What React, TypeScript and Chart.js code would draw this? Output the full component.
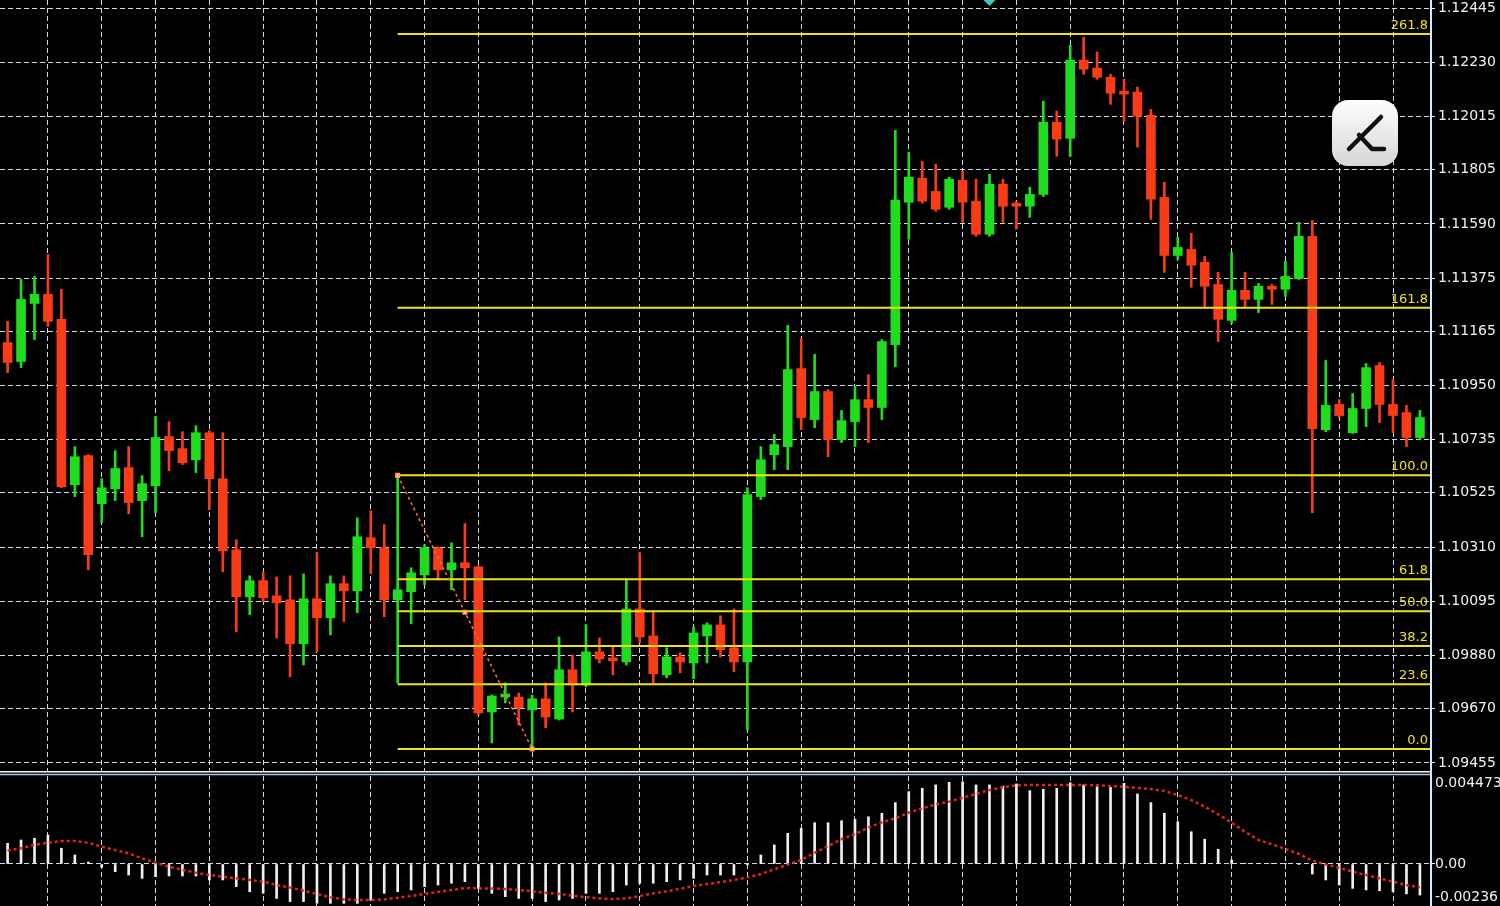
import React, { useEffect, useRef } from "react";
import { Chart, registerables } from "chart.js";

Chart.register(...registerables);

// ---------- DATA ----------
const opens = [
  1.11120, 1.11045, 1.11275, 1.11311, 1.11212, 1.10557, 1.10672, 1.10482, 1.10541, 1.10625,
  1.10494, 1.10553, 1.10748, 1.10700, 1.10656, 1.10763, 1.10581, 1.10299, 1.10113, 1.10177,
  1.10117, 1.10101, 1.09927, 1.10105, 1.10030, 1.10165, 1.10137, 1.10347, 1.10307, 1.10101,
  1.10133, 1.10200, 1.10307, 1.10220, 1.10248, 1.10232, 1.09657, 1.09716, 1.09716, 1.09665,
  1.09709, 1.09629, 1.09824, 1.09764, 1.09895, 1.09871, 1.09855, 1.10065, 1.09958, 1.09804,
  1.09875, 1.09851, 1.09958, 1.10002, 1.09911, 1.09855, 1.10510, 1.10676, 1.10708, 1.11017,
  1.10815, 1.10926, 1.10736, 1.10807, 1.10894, 1.10863, 1.11112, 1.11676, 1.11771, 1.11719,
  1.11656, 1.11763, 1.11680, 1.11549, 1.11747, 1.11672, 1.11660, 1.11707, 1.11993, 1.11929,
  1.12239, 1.12207, 1.12171, 1.12116, 1.12112, 1.12021, 1.11695, 1.11465, 1.11489, 1.11438,
  1.11350, 1.11208, 1.11327, 1.11291, 1.11343, 1.11331, 1.11374, 1.11541, 1.10775, 1.10875,
  1.10763, 1.10859, 1.11029, 1.10875, 1.10843, 1.10744,
];
const highs = [
  1.11204, 1.11370, 1.11382, 1.11469, 1.11331, 1.10708, 1.10676, 1.10581, 1.10692, 1.10708,
  1.10593, 1.10827, 1.10807, 1.10767, 1.10791, 1.10771, 1.10763, 1.10339, 1.10196, 1.10212,
  1.10192, 1.10196, 1.10204, 1.10288, 1.10196, 1.10196, 1.10426, 1.10454, 1.10399, 1.10594,
  1.10228, 1.10319, 1.10311, 1.10327, 1.10403, 1.10236, 1.09724, 1.09772, 1.09732, 1.09724,
  1.09772, 1.09954, 1.09883, 1.10002, 1.09950, 1.09919, 1.10184, 1.10288, 1.10054, 1.09911,
  1.09891, 1.09994, 1.10010, 1.10038, 1.10065, 1.10545, 1.10708, 1.10756, 1.11188, 1.11136,
  1.11073, 1.10934, 1.10851, 1.10946, 1.10993, 1.11132, 1.11961, 1.11874, 1.11838, 1.11826,
  1.11775, 1.11799, 1.11767, 1.11787, 1.11767, 1.11680, 1.11735, 1.12076, 1.12037, 1.12298,
  1.12330, 1.12271, 1.12183, 1.12163, 1.12132, 1.12044, 1.11755, 1.11537, 1.11553, 1.11461,
  1.11398, 1.11477, 1.11398, 1.11354, 1.11350, 1.11442, 1.11596, 1.11604, 1.11049, 1.10894,
  1.10918, 1.11037, 1.11041, 1.10974, 1.10871, 1.10851,
];
const lows = [
  1.11001, 1.11021, 1.11132, 1.11184, 1.10545, 1.10510, 1.10220, 1.10407, 1.10494, 1.10442,
  1.10351, 1.10446, 1.10613, 1.10637, 1.10605, 1.10458, 1.10212, 1.09974, 1.10042, 1.10093,
  1.09950, 1.09796, 1.09843, 1.09895, 1.09962, 1.10014, 1.10050, 1.10204, 1.10034, 1.09772,
  1.10006, 1.10161, 1.10180, 1.10141, 1.10101, 1.09645, 1.09534, 1.09693, 1.09605, 1.09510,
  1.09594, 1.09625, 1.09657, 1.09756, 1.09851, 1.09804, 1.09843, 1.09931, 1.09772, 1.09792,
  1.09812, 1.09788, 1.09851, 1.09875, 1.09816, 1.09586, 1.10498, 1.10617, 1.10617, 1.10775,
  1.10783, 1.10668, 1.10724, 1.10708, 1.10724, 1.10815, 1.11025, 1.11529, 1.11672, 1.11640,
  1.11648, 1.11596, 1.11541, 1.11541, 1.11596, 1.11569, 1.11616, 1.11699, 1.11858, 1.11858,
  1.12183, 1.12163, 1.12064, 1.11997, 1.11894, 1.11608, 1.11398, 1.11450, 1.11339, 1.11263,
  1.11124, 1.11196, 1.11263, 1.11239, 1.11271, 1.11303, 1.11370, 1.10446, 1.10767, 1.10823,
  1.10760, 1.10787, 1.10803, 1.10763, 1.10708, 1.10736,
];
const closes = [
  1.11041, 1.11291, 1.11311, 1.11204, 1.10549, 1.10668, 1.10280, 1.10545, 1.10621, 1.10486,
  1.10561, 1.10744, 1.10692, 1.10644, 1.10763, 1.10581, 1.10295, 1.10113, 1.10177, 1.10109,
  1.10089, 1.09927, 1.10105, 1.10030, 1.10165, 1.10137, 1.10351, 1.10307, 1.10101, 1.10141,
  1.10208, 1.10307, 1.10220, 1.10248, 1.10228, 1.09653, 1.09720, 1.09728, 1.09673, 1.09709,
  1.09637, 1.09824, 1.09764, 1.09895, 1.09867, 1.09859, 1.10065, 1.09954, 1.09808, 1.09875,
  1.09855, 1.09970, 1.10002, 1.09903, 1.09855, 1.10518, 1.10656, 1.10716, 1.11013, 1.10823,
  1.10926, 1.10736, 1.10811, 1.10894, 1.10863, 1.11124, 1.11684, 1.11775, 1.11680, 1.11648,
  1.11767, 1.11676, 1.11549, 1.11747, 1.11660, 1.11660, 1.11707, 1.11993, 1.11926, 1.12239,
  1.12203, 1.12171, 1.12108, 1.12104, 1.12017, 1.11688, 1.11465, 1.11497, 1.11426, 1.11343,
  1.11212, 1.11327, 1.11291, 1.11343, 1.11331, 1.11382, 1.11541, 1.10779, 1.10871, 1.10831,
  1.10859, 1.11021, 1.10875, 1.10831, 1.10744, 1.10823,
];

const priceTickLabels = [
  "1.12445", "1.12230", "1.12015", "1.11805", "1.11590", "1.11375", "1.11165", "1.10950",
  "1.10735", "1.10525", "1.10310", "1.10095", "1.09880", "1.09670", "1.09455",
];

const fibLabels = ["0.0", "23.6", "38.2", "50.0", "61.8", "100.0", "161.8", "261.8"];
const fibPrices = [1.0951, 1.09767, 1.09918, 1.10056, 1.10183, 1.10594, 1.11258, 1.12342];
const fibStartIndex = 29;

const trendIndex = [29, 34, 39];
const trendPrices = [1.10594, 1.10052, 1.0951];

const gridCandles = [3, 7, 11, 15, 19, 23, 27, 31, 35, 39, 43, 47, 51, 55, 59, 63, 67, 71, 75, 79, 83, 87, 91, 95, 99, 103];

const markerIndex = 73;

const macdHist = [
  0.00105, 0.00122, 0.00131, 0.00147, 0.0008, 0.00046, 0.0001, -0.00017, -0.00039, -0.00056,
  -0.00073, -0.00064, -0.00061, -0.00061, -0.00061, -0.00081, -0.00081, -0.00115, -0.00141, -0.00149,
  -0.00175, -0.00191, -0.00191, -0.002, -0.002, -0.002, -0.002, -0.00183, -0.00149, -0.00141,
  -0.00132, -0.00115, -0.00107, -0.00098, -0.0009, -0.00124, -0.00149, -0.00166, -0.00175, -0.00175,
  -0.00191, -0.00183, -0.00175, -0.00149, -0.00149, -0.00141, -0.00107, -0.00098, -0.00098, -0.0009,
  -0.00081, -0.00073, -0.00056, -0.00056, -0.00056, -0.00005, 0.00046, 0.00097, 0.00156, 0.00181,
  0.0021, 0.0021, 0.0022, 0.00227, 0.0024, 0.00258, 0.00312, 0.00368, 0.00385, 0.00402,
  0.00415, 0.00418, 0.00402, 0.00402, 0.00396, 0.00407, 0.00373, 0.0038, 0.00385, 0.00413,
  0.00402, 0.00393, 0.0039, 0.0041, 0.00356, 0.00312, 0.00258, 0.00215, 0.00164, 0.00126,
  0.00075, 0.0002, 0.00004, 0.00003, 0.00002, 0.00001, -0.00002, -0.00051, -0.00081, -0.00107,
  -0.00124, -0.00132, -0.00136, -0.00141, -0.00152, -0.00158,
];
const macdSignal = [
  0.00068, 0.0008, 0.00097, 0.00108, 0.00117, 0.00117, 0.00108, 0.00088, 0.00071, 0.00054,
  0.00029, 0.00007, -0.00014, -0.0003, -0.00044, -0.00056, -0.00064, -0.00073, -0.00081, -0.0009,
  -0.00107, -0.00119, -0.00136, -0.00152, -0.00169, -0.0018, -0.00183, -0.00183, -0.0018, -0.00171,
  -0.00163, -0.00152, -0.00142, -0.00132, -0.00122, -0.00124, -0.00124, -0.00127, -0.00132, -0.00139,
  -0.00146, -0.00152, -0.00161, -0.00169, -0.00175, -0.00178, -0.00175, -0.00163, -0.00149, -0.00139,
  -0.00126, -0.00112, -0.00102, -0.00092, -0.00081, -0.00068, -0.00051, -0.00027, -0.00003, 0.0002,
  0.00057, 0.00091, 0.00126, 0.00152, 0.00185, 0.00212, 0.00232, 0.00261, 0.00283, 0.00303,
  0.00317, 0.00337, 0.00356, 0.00376, 0.0039, 0.004, 0.00402, 0.00402, 0.00402, 0.00402,
  0.00402, 0.004, 0.00396, 0.00393, 0.00386, 0.00381, 0.00371, 0.00351, 0.00325, 0.00291,
  0.00253, 0.0021, 0.00164, 0.00122, 0.001, 0.00076, 0.00051, 0.00017, -0.00002, -0.00019,
  -0.00039, -0.00056, -0.00073, -0.0009, -0.00107, -0.00119,
];
const macdTickValues = [0.004473, 0, -0.00236];
const macdTickLabels = ["0.004473", "0.00", "-0.00236"];

// ---------- STYLE ----------
const X_MIN = -0.565;
const X_MAX = 105.75;
const PRICE_MIN = 1.09423;
const PRICE_MAX = 1.12477;
const MACD_MIN = -0.002135;
const MACD_MAX = 0.004473;
const UP = "#1fdc1f";
const DOWN = "#f83c18";
const GRID = "rgba(212,232,248,0.95)";
const YELLOW = "#f0e31c";
const AXIS_TEXT = "#eef2f8";
const AXIS_LINE = "#d4eaff";
const FONT = "DejaVu Sans";
const DASH = [5, 3];

function xScaleOptions() {
  return {
    type: "linear",
    min: X_MIN,
    max: X_MAX,
    offset: false,
    display: true,
    afterBuildTicks: (s: any) => {
      s.ticks = gridCandles.map((v) => ({ value: v }));
    },
    afterFit: (s: any) => {
      s.height = 0;
      s.paddingLeft = 0;
      s.paddingRight = 0;
    },
    ticks: { display: false },
    grid: { color: GRID, lineWidth: 1, drawTicks: false, offset: false },
    border: { display: false, dash: DASH },
  };
}

export default function App() {
  const mainRef = useRef<HTMLCanvasElement>(null);
  const subRef = useRef<HTMLCanvasElement>(null);

  useEffect(() => {
    document.body.style.margin = "0";
    document.body.style.background = "#000";
    Chart.defaults.font.family = FONT;

    const idx = opens.map((_, i) => i);
    const colors = idx.map((i) => (closes[i] >= opens[i] ? UP : DOWN));

    const bgPlugin = {
      id: "bg",
      beforeDraw(chart: any) {
        const { ctx, width, height } = chart;
        ctx.save();
        ctx.fillStyle = "#000";
        ctx.fillRect(0, 0, width, height);
        ctx.restore();
      },
    };

    const mainDecor = {
      id: "mainDecor",
      afterDatasetsDraw(chart: any) {
        const { ctx, chartArea } = chart;
        const ys = chart.scales.y;
        const xs = chart.scales.x;
        ctx.save();
        ctx.font = `13px ${FONT}`;
        ctx.fillStyle = YELLOW;
        ctx.textAlign = "right";
        ctx.textBaseline = "bottom";
        fibPrices.forEach((p, k) => {
          const y = ys.getPixelForValue(p);
          ctx.fillText(fibLabels[k], chartArea.right - 2, y - 2);
        });
        // small cyan marker at top edge
        const mx = xs.getPixelForValue(markerIndex);
        ctx.fillStyle = "#3fc6c8";
        ctx.beginPath();
        ctx.moveTo(mx - 6, 0);
        ctx.lineTo(mx + 6, 0);
        ctx.lineTo(mx, 6);
        ctx.closePath();
        ctx.fill();
        ctx.restore();
      },
      afterDraw(chart: any) {
        const { ctx, chartArea, height } = chart;
        ctx.save();
        // right axis line
        ctx.strokeStyle = AXIS_LINE;
        ctx.lineWidth = 2;
        ctx.beginPath();
        ctx.moveTo(chartArea.right + 1, 0);
        ctx.lineTo(chartArea.right + 1, height);
        ctx.stroke();
        // watermark logo
        const lx = chartArea.right - 98;
        const ly = 100;
        const s = 66;
        const r = 16;
        const g = ctx.createLinearGradient(lx, ly, lx, ly + s);
        g.addColorStop(0, "#ffffff");
        g.addColorStop(1, "#d6d6d6");
        ctx.fillStyle = g;
        ctx.beginPath();
        ctx.moveTo(lx + r, ly);
        ctx.arcTo(lx + s, ly, lx + s, ly + s, r);
        ctx.arcTo(lx + s, ly + s, lx, ly + s, r);
        ctx.arcTo(lx, ly + s, lx, ly, r);
        ctx.arcTo(lx, ly, lx + s, ly, r);
        ctx.closePath();
        ctx.fill();
        ctx.strokeStyle = "#111";
        ctx.lineWidth = 4.5;
        ctx.lineCap = "round";
        ctx.lineJoin = "round";
        ctx.beginPath();
        ctx.moveTo(lx + 17, ly + 49);
        ctx.lineTo(lx + 49, ly + 17);
        ctx.stroke();
        ctx.beginPath();
        ctx.moveTo(lx + 27, ly + 35);
        ctx.lineTo(lx + 40, ly + 49);
        ctx.lineTo(lx + 52, ly + 49);
        ctx.stroke();
        ctx.restore();
      },
    };

    const main = new Chart(mainRef.current as HTMLCanvasElement, {
      type: "bar",
      data: {
        datasets: [
          {
            type: "line",
            label: "trend",
            data: trendIndex.map((x, k) => ({ x, y: trendPrices[k] })),
            borderColor: "#ff7038",
            borderWidth: 1.5,
            borderDash: [3, 3],
            pointRadius: 2.5,
            pointStyle: "rect",
            pointBackgroundColor: "#ffc99a",
            pointBorderColor: "#ff9a60",
            order: 0,
          } as any,
          ...fibPrices.map((p) => ({
            type: "line",
            label: "fib",
            data: [
              { x: fibStartIndex, y: p },
              { x: X_MAX, y: p },
            ],
            borderColor: YELLOW,
            borderWidth: 2,
            pointRadius: 0,
            order: 1,
          })) as any,
          {
            type: "bar",
            label: "body",
            data: idx.map((i) => ({ x: i, y: [opens[i], closes[i]] })),
            backgroundColor: colors,
            barThickness: 9,
            grouped: false,
            minBarLength: 1,
            borderWidth: 0,
            order: 5,
          } as any,
          {
            type: "bar",
            label: "wick",
            data: idx.map((i) => ({ x: i, y: [lows[i], highs[i]] })),
            backgroundColor: colors,
            barThickness: 2,
            grouped: false,
            borderWidth: 0,
            order: 6,
          } as any,
        ],
      },
      options: {
        responsive: false,
        animation: false,
        events: [],
        layout: { padding: 0, autoPadding: false },
        plugins: { legend: { display: false }, tooltip: { enabled: false } },
        scales: {
          x: xScaleOptions() as any,
          y: {
            type: "linear",
            position: "right",
            min: PRICE_MIN,
            max: PRICE_MAX,
            afterBuildTicks: (s: any) => {
              s.ticks = priceTickLabels.map((t) => ({ value: parseFloat(t) }));
            },
            afterFit: (s: any) => {
              s.width = 70;
              s.paddingTop = 0;
              s.paddingBottom = 0;
            },
            ticks: {
              autoSkip: false,
              color: AXIS_TEXT,
              padding: 3,
              font: { size: 14, family: FONT },
              callback: (v: any) => Number(v).toFixed(5),
            },
            grid: {
              color: GRID,
              lineWidth: 1,
              drawTicks: true,
              tickLength: 5,
              tickColor: AXIS_TEXT,
              tickWidth: 1,
            },
            border: { display: false, dash: DASH },
          } as any,
        },
      },
      plugins: [bgPlugin, mainDecor],
    });

    const subDecor = {
      id: "subDecor",
      afterDraw(chart: any) {
        const { ctx, chartArea, height } = chart;
        const ys = chart.scales.y;
        ctx.save();
        // separator
        ctx.strokeStyle = "#f2f6fa";
        ctx.lineWidth = 1.5;
        ctx.beginPath();
        ctx.moveTo(0, 0.8);
        ctx.lineTo(chartArea.right, 0.8);
        ctx.stroke();
        ctx.strokeStyle = "#a9c8ee";
        ctx.beginPath();
        ctx.moveTo(0, 3.6);
        ctx.lineTo(chartArea.right, 3.6);
        ctx.stroke();
        // axis line
        ctx.strokeStyle = AXIS_LINE;
        ctx.lineWidth = 2;
        ctx.beginPath();
        ctx.moveTo(chartArea.right + 1, 0);
        ctx.lineTo(chartArea.right + 1, height);
        ctx.stroke();
        // labels
        ctx.font = `14px ${FONT}`;
        ctx.fillStyle = AXIS_TEXT;
        ctx.textAlign = "left";
        ctx.textBaseline = "middle";
        macdTickValues.forEach((v, k) => {
          let y = ys.getPixelForValue(v);
          y = Math.max(chartArea.top + 7, Math.min(chartArea.bottom - 9, y));
          ctx.fillText(macdTickLabels[k], chartArea.right + 5, y);
        });
        ctx.restore();
      },
    };

    const sub = new Chart(subRef.current as HTMLCanvasElement, {
      type: "bar",
      data: {
        datasets: [
          {
            type: "line",
            label: "signal",
            data: idx.map((i) => ({ x: i, y: macdSignal[i] })),
            borderColor: "#e3221c",
            borderWidth: 2.5,
            borderDash: [3, 3],
            pointRadius: 0,
            tension: 0,
            order: 0,
          } as any,
          {
            type: "bar",
            label: "hist",
            data: idx.map((i) => ({ x: i, y: macdHist[i] })),
            backgroundColor: "#f0f0f0",
            barThickness: 2,
            grouped: false,
            borderWidth: 0,
            order: 1,
          } as any,
        ],
      },
      options: {
        responsive: false,
        animation: false,
        events: [],
        layout: { padding: { top: 5, left: 0, right: 0, bottom: 0 }, autoPadding: false },
        plugins: { legend: { display: false }, tooltip: { enabled: false } },
        scales: {
          x: xScaleOptions() as any,
          y: {
            type: "linear",
            position: "right",
            min: MACD_MIN,
            max: MACD_MAX,
            afterBuildTicks: (s: any) => {
              s.ticks = [{ value: 0 }];
            },
            afterFit: (s: any) => {
              s.width = 70;
              s.paddingTop = 0;
              s.paddingBottom = 0;
            },
            ticks: { display: false },
            grid: {
              color: GRID,
              lineWidth: 1,
              drawTicks: true,
              tickLength: 5,
              tickColor: AXIS_TEXT,
            },
            border: { display: false, dash: DASH },
          } as any,
        },
      },
      plugins: [bgPlugin, subDecor],
    });

    return () => {
      main.destroy();
      sub.destroy();
    };
  }, []);

  return (
    <div
      style={{
        position: "absolute",
        left: 0,
        top: 0,
        width: 1500,
        height: 906,
        background: "#000",
        overflow: "hidden",
      }}
    >
      <canvas
        ref={mainRef}
        width={1500}
        height={771}
        style={{ position: "absolute", left: 0, top: 0, width: 1500, height: 771, display: "block" }}
      />
      <canvas
        ref={subRef}
        width={1500}
        height={135}
        style={{ position: "absolute", left: 0, top: 771, width: 1500, height: 135, display: "block" }}
      />
    </div>
  );
}
